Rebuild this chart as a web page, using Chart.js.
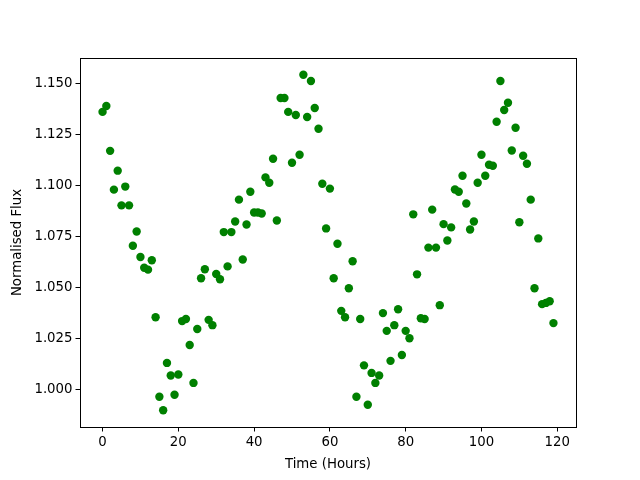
<!DOCTYPE html>
<html>
<head>
<meta charset="utf-8">
<script src="https://cdn.jsdelivr.net/npm/chart.js@4/dist/chart.umd.min.js"></script>
<style>
html,body{margin:0;padding:0;background:#fff;}
#wrap{width:640px;height:480px;position:relative;}
</style>
</head>
<body>
<div id="wrap"><canvas id="c" width="640" height="480"></canvas></div>
<script>
const hours = [];
for (let i = 0; i < 120; i++) hours.push(i);
const flux = [
1.1360,1.1389,1.1169,1.0979,1.1072,1.0902,1.0994,1.0902,1.0704,1.0774,
1.0649,1.0596,1.0587,1.0633,1.0354,0.9964,0.9898,1.0130,1.0068,0.9974,
1.0073,1.0335,1.0345,1.0218,1.0032,1.0296,1.0545,1.0589,1.0341,1.0315,
1.0566,1.0540,1.0771,1.0603,1.0771,1.0823,1.0930,1.0637,1.0808,1.0969,
1.0867,1.0867,1.0862,1.1039,1.1013,1.1130,1.0828,1.1428,1.1428,1.1360,
1.1111,1.1345,1.1150,1.1542,1.1335,1.1511,1.1379,1.1277,1.1008,1.0789,
1.0984,1.0545,1.0714,1.0385,1.0354,1.0496,1.0628,0.9964,1.0345,1.0118,
0.9925,1.0081,1.0032,1.0068,1.0374,1.0287,1.0140,1.0315,1.0393,1.0169,
1.0287,1.0251,1.0858,1.0564,1.0349,1.0345,1.0695,1.0881,1.0695,1.0413,
1.0810,1.0730,1.0794,1.0980,1.0969,1.1047,1.0911,1.0784,1.0823,1.1013,
1.1150,1.1047,1.1101,1.1096,1.1312,1.1511,1.1369,1.1405,1.1171,1.1282,
1.0819,1.1145,1.1106,1.0930,1.0496,1.0740,1.0418,1.0424,1.0432,1.0325
];
const xTicks = [0,20,40,60,80,100,120];
const yTicks = [1.000,1.025,1.050,1.075,1.100,1.125,1.150];

const points = hours.map((h,i)=>({x:h, y:flux[i]}));

const frame = {
  id:'frame',
  afterDraw(chart){
    const a = chart.chartArea, ctx = chart.ctx;
    ctx.save();
    ctx.strokeStyle = '#000';
    ctx.lineWidth = 1;
    ctx.strokeRect(Math.round(a.left)+0.5, Math.round(a.top)+0.5, Math.round(a.right-a.left), Math.round(a.bottom-a.top));
    ctx.restore();
  }
};

const font = {family:'DejaVu Sans', size:13.3};

new Chart(document.getElementById('c'), {
  type:'scatter',
  data:{datasets:[{
    data: points,
    backgroundColor:'#008000',
    borderColor:'#008000',
    borderWidth:0,
    pointRadius:4.2,
    pointHoverRadius:4.2
  }]},
  options:{
    responsive:false,
    animation:false,
    events:[],
    layout:{padding:{left:0,right:64,top:58,bottom:0}},
    plugins:{legend:{display:false},tooltip:{enabled:false}},
    scales:{
      x:{
        type:'linear',
        min:-5.95, max:124.95,
        afterBuildTicks(s){ s.ticks = xTicks.map(v=>({value:v})); },
        afterFit(s){ s.height = 53; },
        grid:{display:true, drawOnChartArea:false, drawTicks:true, tickLength:4.5, tickColor:'#000', color:'#000'},
        border:{display:false},
        ticks:{color:'#000', font:font, padding:3, maxRotation:0, callback:v=>String(v)},
        title:{display:true, text:'Time (Hours)', color:'#000', font:font, padding:{top:0,bottom:7}}
      },
      y:{
        type:'linear',
        min:0.9816, max:1.1624,
        afterBuildTicks(s){ s.ticks = yTicks.map(v=>({value:v})); },
        afterFit(s){ s.width = 80; },
        grid:{display:true, drawOnChartArea:false, drawTicks:true, tickLength:4.5, tickColor:'#000', color:'#000'},
        border:{display:false},
        ticks:{color:'#000', font:font, padding:3, callback:v=>Number(v).toFixed(3)},
        title:{display:true, text:'Normalised Flux', color:'#000', font:font, padding:{top:10,bottom:0}}
      }
    }
  },
  plugins:[frame]
});
</script>
</body>
</html>
